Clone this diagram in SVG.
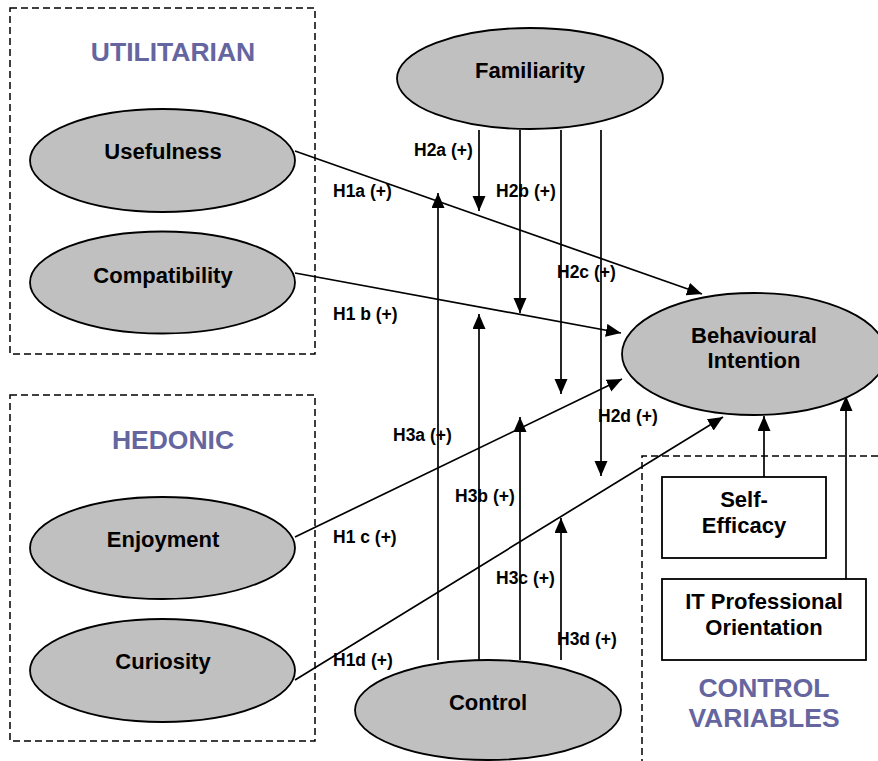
<svg xmlns="http://www.w3.org/2000/svg" width="878" height="761" viewBox="0 0 878 761">
<defs>
<marker id="ah" markerUnits="userSpaceOnUse" markerWidth="16" markerHeight="14" refX="15" refY="6.5" orient="auto">
<path d="M0,0 L15,6.5 L0,13 z" fill="#000"/>
</marker>
</defs>
<style>
.bg{fill:#fff}
.ell{fill:#c0c0c0;stroke:#000;stroke-width:1.8}
.box{fill:#fff;stroke:#000;stroke-width:1.8}
.dash{fill:none;stroke:#000;stroke-width:1.5;stroke-dasharray:7 4}
.t{font-family:"Liberation Sans",Arial,sans-serif;font-weight:bold;font-size:22px;fill:#000;text-anchor:middle}
.h{font-family:"Liberation Sans",Arial,sans-serif;font-weight:bold;font-size:26.5px;fill:#65659f;text-anchor:middle}
.l{font-family:"Liberation Sans",Arial,sans-serif;font-weight:bold;font-size:17.5px;fill:#000}
.c{fill:none;stroke:#000;stroke-width:1.7;marker-end:url(#ah)}
</style>
<rect class="bg" x="0" y="0" width="878" height="761"/>
<g id="groups">
<rect class="dash" x="10" y="8" width="305" height="346"/>
<text class="h" x="173" y="61">UTILITARIAN</text>
<rect class="dash" x="10" y="395" width="305" height="346"/>
<text class="h" x="173" y="449">HEDONIC</text>
<path class="dash" d="M878,456 L642,456 L642,761"/>
<text class="h" x="764" y="697">CONTROL</text>
<text class="h" x="764" y="727">VARIABLES</text>
</g>
<g id="connectors">
<line class="c" x1="295" y1="151" x2="702" y2="294"/>
<line class="c" x1="295" y1="273" x2="621" y2="333"/>
<line class="c" x1="295" y1="537" x2="622" y2="379"/>
<line class="c" x1="295" y1="680" x2="723" y2="417"/>
<line class="c" x1="479" y1="130" x2="479" y2="211"/>
<line class="c" x1="520" y1="130" x2="520" y2="313"/>
<line class="c" x1="561" y1="130" x2="561" y2="394"/>
<line class="c" x1="601" y1="130" x2="601" y2="476"/>
<line class="c" x1="438" y1="660" x2="438" y2="193"/>
<line class="c" x1="479" y1="660" x2="479" y2="314"/>
<line class="c" x1="520" y1="660" x2="520" y2="417"/>
<line class="c" x1="561" y1="660" x2="561" y2="518"/>
<line class="c" x1="764" y1="477" x2="764" y2="416"/>
<line class="c" x1="846" y1="579" x2="846" y2="396"/>
</g>
<g id="labels">
<text class="l" x="333" y="197">H1a (+)</text>
<text class="l" x="333" y="320">H1 b (+)</text>
<text class="l" x="333" y="543">H1 c (+)</text>
<text class="l" x="333" y="666">H1d (+)</text>
<text class="l" x="414" y="156">H2a (+)</text>
<text class="l" x="496" y="197">H2b (+)</text>
<text class="l" x="557" y="278">H2c (+)</text>
<text class="l" x="598" y="422">H2d (+)</text>
<text class="l" x="393" y="441">H3a (+)</text>
<text class="l" x="455" y="502">H3b (+)</text>
<text class="l" x="496" y="584">H3c (+)</text>
<text class="l" x="557" y="645">H3d (+)</text>
</g>
<g id="usefulness"><ellipse class="ell" cx="162.5" cy="160.5" rx="132.5" ry="51.5"/><text class="t" x="163" y="159">Usefulness</text></g>
<g id="compatibility"><ellipse class="ell" cx="162.5" cy="282.5" rx="132.5" ry="51"/><text class="t" x="163" y="283">Compatibility</text></g>
<g id="enjoyment"><ellipse class="ell" cx="162.5" cy="548" rx="132.5" ry="51"/><text class="t" x="163" y="547">Enjoyment</text></g>
<g id="curiosity"><ellipse class="ell" cx="162.5" cy="670.5" rx="132.5" ry="51.5"/><text class="t" x="163" y="669">Curiosity</text></g>
<g id="familiarity"><ellipse class="ell" cx="530" cy="78.5" rx="133" ry="50.5"/><text class="t" x="530" y="78">Familiarity</text></g>
<g id="behavioural-intention"><ellipse class="ell" cx="754" cy="354" rx="132" ry="61"/><text class="t" x="754" y="343">Behavioural</text><text class="t" x="754" y="368">Intention</text></g>
<g id="control"><ellipse class="ell" cx="488" cy="710" rx="133" ry="50"/><text class="t" x="488" y="710">Control</text></g>
<g id="self-efficacy"><rect class="box" x="662" y="477" width="164" height="81"/><text class="t" x="744" y="507">Self-</text><text class="t" x="744" y="533">Efficacy</text></g>
<g id="it-professional"><rect class="box" x="662" y="579" width="204" height="81"/><text class="t" x="764" y="609">IT Professional</text><text class="t" x="764" y="635">Orientation</text></g>
</svg>
